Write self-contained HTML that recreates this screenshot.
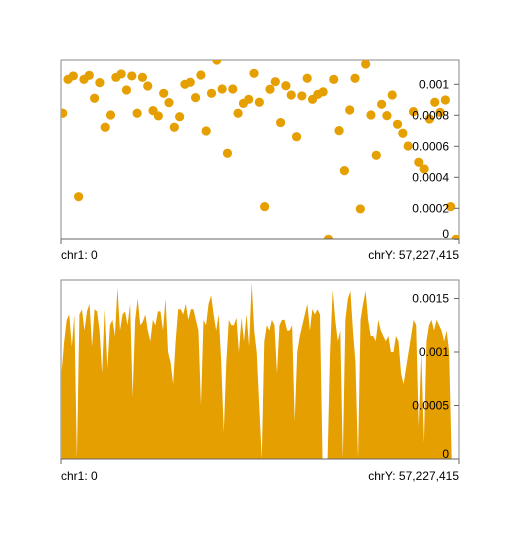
<!DOCTYPE html>
<html><head><meta charset="utf-8"><style>
html,body{margin:0;padding:0;background:#fff;width:520px;height:550px;overflow:hidden}
svg text{font-family:"Liberation Sans",Arial,sans-serif;font-size:12px;fill:#000}
</style></head><body>
<svg id="chart" width="520" height="550" xmlns="http://www.w3.org/2000/svg">
<defs>
<clipPath id="c1"><rect x="61" y="60" width="398" height="179"/></clipPath>
<clipPath id="c2"><rect x="61" y="280" width="398" height="179"/></clipPath>
</defs>
<g id="top">
<path d="M61 60H459V239" fill="none" stroke="#888" stroke-width="1"/>
<line x1="61" y1="60" x2="61" y2="239" stroke="#888"/>
<g id="dots" clip-path="url(#c1)"></g>
<line x1="61" y1="239" x2="459" y2="239" stroke="#666"/>
<line x1="61" y1="239" x2="61" y2="244" stroke="#666"/>
<line x1="459" y1="239" x2="459" y2="244" stroke="#666"/>
<text x="61" y="259">chr1: 0</text>
<text x="459" y="259" text-anchor="end">chrY: 57,227,415</text>
<g id="yt1"></g>
</g>
<g id="bottom">
<path d="M61 459V280H459V459" fill="none" stroke="#888"/>
<g id="area" clip-path="url(#c2)"></g>
<line x1="61" y1="459" x2="459" y2="459" stroke="#666"/>
<line x1="61" y1="459" x2="61" y2="464" stroke="#666"/>
<line x1="459" y1="459" x2="459" y2="464" stroke="#666"/>
<text x="61" y="480">chr1: 0</text>
<text x="459" y="480" text-anchor="end">chrY: 57,227,415</text>
<g id="yt2"></g>
</g>
</svg>
<script>
const scatterValues=[0.000813,0.001032,0.001054,0.000275,0.001032,0.001058,0.000910,0.001011,0.000723,0.000802,0.001045,0.001067,0.000963,0.001054,0.000813,0.001045,0.000989,0.000830,0.000796,0.000942,0.000882,0.000723,0.000791,0.001000,0.001013,0.000914,0.001060,0.000699,0.000942,0.001157,0.000970,0.000555,0.000970,0.000813,0.000877,0.000903,0.001071,0.000884,0.000211,0.000968,0.001017,0.000753,0.000991,0.000931,0.000662,0.000925,0.001039,0.000903,0.000935,0.000951,0,0.001032,0.000701,0.000443,0.000834,0.001039,0.000196,0.001131,0.000802,0.000542,0.000871,0.000798,0.000931,0.000742,0.000684,0.000602,0.000824,0.000497,0.000454,0.000776,0.000884,0.000819,0.000899,0.000211,0];
const scatterTicks=[0,0.0002,0.0004,0.0006,0.0008,0.001];
const scatterTickLabels=["0","0.0002","0.0004","0.0006","0.0008","0.001"];
const areaValues=[0.82,1.10,1.30,1.35,1.05,1.35,0,1.35,1.40,1.20,1.38,1.45,1.05,1.40,1.38,1.20,0.80,1.40,0.85,1.25,1.30,1.15,1.60,1.20,1.35,1.38,1.25,1.45,0.58,1.30,1.50,1.25,1.28,1.35,1.20,1.10,1.30,1.25,1.38,1.38,1.20,1.50,1.00,0.90,0.70,1.10,1.40,1.40,1.35,1.45,1.30,1.40,1.40,1.30,1.20,0.50,1.30,1.25,1.45,1.53,1.35,1.20,1.35,0.90,0.25,0.90,1.30,1.25,1.25,1.32,1.00,1.32,1.10,1.35,1.05,1.65,1.20,1.00,0.50,0,1.10,1.25,1.20,1.30,1.25,0.80,1.25,1.30,1.30,1.20,1.20,1.25,0.35,1.00,1.15,1.25,1.35,1.45,1.20,1.40,1.35,1.40,1.35,0,0,0,1.00,1.58,1.30,1.10,1.20,0,1.30,1.50,1.57,1.20,0.90,0,1.30,1.45,1.57,1.30,1.15,1.15,1.10,1.30,1.20,1.15,1.10,1.15,1.00,1.00,1.15,1.10,0.80,0.70,0.85,1.00,1.15,1.30,1.25,0.30,1.00,0.15,1.10,1.25,1.30,1.20,1.30,1.25,1.20,1.10,1.20,1.00,0].map(v=>v/1000);
const areaTicks=[0,0.0005,0.001,0.0015];
const areaTickLabels=["0","0.0005","0.001","0.0015"];
const NS="http://www.w3.org/2000/svg";
function mk(t,a,p){const e=document.createElementNS(NS,t);for(const k in a)e.setAttribute(k,a[k]);p.appendChild(e);return e;}
const x1=i=>62.7+i*(456-62.7)/(scatterValues.length-1);
const y1=v=>239.3-v*155000;
const x2=i=>61.7+i*(451.7-61.7)/(areaValues.length-1);
const y2=v=>459-v*107000;
const dots=document.getElementById('dots');
scatterValues.forEach((v,i)=>{
 const c=mk('circle',{cx:x1(i),cy:y1(v),r:4.6,fill:'#E69F00'},dots);
 
 
});
const yt1=document.getElementById('yt1');
scatterTicks.forEach((t,i)=>{
 const y=y1(t);
 mk('line',{x1:454,y1:y,x2:459,y2:y,stroke:'#666'},yt1);
 const tx=mk('text',{x:449,y:Math.min(y+4,238),'text-anchor':'end'},yt1);
 tx.textContent=scatterTickLabels[i];
 
 
});
let d='M'+x2(0)+' '+y2(0);
areaValues.forEach((v,i)=>{d+='L'+x2(i).toFixed(2)+' '+y2(v).toFixed(2);});
d+='L'+x2(areaValues.length-1)+' '+y2(0)+'Z';
const ar=mk('path',{d:d,fill:'#E69F00'},document.getElementById('area'));


const yt2=document.getElementById('yt2');
areaTicks.forEach((t,i)=>{
 const y=y2(t);
 mk('line',{x1:454,y1:y,x2:459,y2:y,stroke:'#666'},yt2);
 const tx=mk('text',{x:449,y:Math.min(y+4,458),'text-anchor':'end'},yt2);
 tx.textContent=areaTickLabels[i];
 
 
});
</script>
</body></html>
